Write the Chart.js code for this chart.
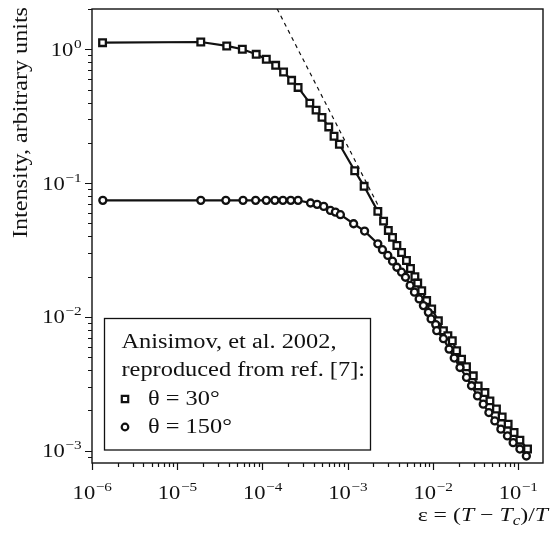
<!DOCTYPE html>
<html>
<head>
<meta charset="utf-8">
<script src="https://cdn.jsdelivr.net/npm/chart.js@4/dist/chart.umd.min.js"></script>
<style>
  html, body { margin: 0; background: #fff; }
</style>
</head>
<body>
<canvas id="chart" width="550" height="537"></canvas>
<script>
// theta = 30 deg (squares)
var eps30 = [1.33e-6, 1.89e-5, 3.81e-5, 5.81e-5, 8.45e-5, 1.11e-4, 1.43e-4, 1.77e-4, 2.20e-4, 2.62e-4,
  3.60e-4, 4.26e-4, 5.00e-4, 6.00e-4, 6.92e-4, 8.0e-4, 1.21e-3, 1.56e-3, 2.26e-3, 2.64e-3,
  3.0e-3, 3.36e-3, 3.78e-3, 4.29e-3, 4.90e-3, 5.46e-3, 6.15e-3, 6.64e-3, 7.40e-3, 8.45e-3,
  9.68e-3, 1.16e-2, 1.33e-2, 1.50e-2, 1.69e-2, 1.90e-2, 2.17e-2, 2.48e-2, 2.98e-2, 3.40e-2,
  4.08e-2, 4.67e-2, 5.57e-2, 6.50e-2, 7.64e-2, 8.97e-2, 0.105, 0.129];
var int30 = [1.12, 1.134, 1.059, 1.0, 0.917, 0.842, 0.759, 0.676, 0.586, 0.519,
  0.396, 0.351, 0.310, 0.263, 0.224, 0.195, 0.1236, 0.0946, 0.0615, 0.052,
  0.0443, 0.0393, 0.0342, 0.0303, 0.0264, 0.0230, 0.0200, 0.0179, 0.0157, 0.01325,
  0.01148, 0.00938, 0.00789, 0.00724, 0.00664, 0.00559, 0.00484, 0.00424, 0.00363, 0.00305,
  0.00272, 0.00236, 0.00205, 0.00179, 0.00158, 0.00137, 0.00120, 0.00103];

// theta = 150 deg (circles)
var eps150 = [1.34e-6, 1.89e-5, 3.72e-5, 5.92e-5, 8.32e-5, 1.11e-4, 1.40e-4, 1.74e-4, 2.15e-4, 2.62e-4,
  3.67e-4, 4.38e-4, 5.24e-4, 6.28e-4, 7.18e-4, 8.22e-4, 1.175e-3, 1.58e-3, 2.26e-3, 2.56e-3,
  2.96e-3, 3.36e-3, 3.78e-3, 4.29e-3, 4.77e-3, 5.41e-3, 6.08e-3, 6.90e-3, 7.74e-3, 8.85e-3,
  9.53e-3, 1.08e-2, 1.11e-2, 1.33e-2, 1.55e-2, 1.78e-2, 2.08e-2, 2.48e-2, 2.84e-2, 3.34e-2,
  3.90e-2, 4.54e-2, 5.33e-2, 6.28e-2, 7.50e-2, 8.75e-2, 0.105, 0.125];
var int150 = [0.0743, 0.0743, 0.0743, 0.0743, 0.0743, 0.0743, 0.0743, 0.0743, 0.0743, 0.0743,
  0.0710, 0.0694, 0.0670, 0.0625, 0.0607, 0.0581, 0.0497, 0.0438, 0.0352, 0.0318,
  0.0288, 0.0261, 0.0235, 0.0216, 0.0198, 0.0172, 0.0153, 0.01363, 0.01215, 0.01082,
  0.00966, 0.00876, 0.00789, 0.00688, 0.00575, 0.00493, 0.00419, 0.00353, 0.00306, 0.00257,
  0.00223, 0.00193, 0.00167, 0.00145, 0.00129, 0.00115, 0.00103, 0.000914];

// asymptotic power law (dashed)
var fitEps = [1.0e-4, 2.4e-3];
var fitInt = [3.28, 0.0638];

var xTickExps = [-6, -5, -4, -3, -2, -1];
var yTickExps = [-3, -2, -1, 0];
var legendTitle = ["Anisimov, et al. 2002,", "reproduced from ref. [7]:"];
var legendLabels = ["\u03b8 = 30\u00b0", "\u03b8 = 150\u00b0"];

var SERIF = "'Liberation Serif', 'DejaVu Serif', serif";
var STRETCH = 1.22;
var INK = "#111";

function pairs(xs, ys) {
  var out = [];
  for (var i = 0; i < xs.length; i++) out.push({x: xs[i], y: ys[i]});
  return out;
}

// horizontally widened text, like the reference
function wideText(ctx, str, x, y, font) {
  ctx.save();
  ctx.font = font;
  ctx.translate(x, y);
  ctx.scale(STRETCH, 1);
  ctx.textAlign = "left";
  ctx.textBaseline = "alphabetic";
  ctx.fillText(str, 0, 0);
  ctx.restore();
}
function wideWidth(ctx, str, font) {
  ctx.save();
  ctx.font = font;
  var w = ctx.measureText(str).width * STRETCH;
  ctx.restore();
  return w;
}

function powerLabel(ctx, exp, x, y, align) {
  var baseFont = "18.5px " + SERIF, expFont = "12.5px " + SERIF;
  var e = exp === 0 ? "0" : "\u2212" + Math.abs(exp);
  var wb = wideWidth(ctx, "10", baseFont), we = wideWidth(ctx, e, expFont);
  var x0 = align === "center" ? x - (wb + we) / 2 : x - (wb + we);
  wideText(ctx, "10", x0, y, baseFont);
  wideText(ctx, e, x0 + wb + 0.5, y - 8, expFont);
}

var decor = {
  id: "decor",
  afterDraw: function(chart) {
    var ctx = chart.ctx, a = chart.chartArea;
    var xs = chart.scales.x, ys = chart.scales.y;
    ctx.save();
    ctx.fillStyle = INK;
    ctx.strokeStyle = INK;

    // frame
    ctx.lineWidth = 1.4;
    ctx.strokeRect(a.left, a.top, a.right - a.left, a.bottom - a.top);

    // ticks (outward, bottom and left)
    ctx.lineWidth = 1.2;
    ctx.beginPath();
    for (var n = -7; n <= 1; n++) {
      for (var m = 1; m <= 9; m++) {
        var v = m * Math.pow(10, n);
        var len = m === 1 ? 7 : 4;
        if (v >= xs.min && v <= xs.max) {
          var px = Math.round(xs.getPixelForValue(v)) + 0.5;
          ctx.moveTo(px, a.bottom);
          ctx.lineTo(px, a.bottom + len);
        }
        if (v >= ys.min && v <= ys.max) {
          var py = Math.round(ys.getPixelForValue(v)) + 0.5;
          ctx.moveTo(a.left, py);
          ctx.lineTo(a.left - len, py);
        }
      }
    }
    ctx.stroke();

    // tick labels
    xTickExps.forEach(function(e) {
      powerLabel(ctx, e, xs.getPixelForValue(Math.pow(10, e)), 498.5, "center");
    });
    yTickExps.forEach(function(e) {
      powerLabel(ctx, e, 81, ys.getPixelForValue(Math.pow(10, e)) + 6.5, "right");
    });

    // y axis title
    ctx.save();
    ctx.translate(27, 238);
    ctx.rotate(-Math.PI / 2);
    var yt = "Intensity, arbitrary units", yf = "20px " + SERIF;
    var sc = 231 / wideWidth(ctx, yt, yf);
    ctx.scale(sc, 1);
    wideText(ctx, yt, 0, 0, yf);
    ctx.restore();

    // x axis title: eps = (T - T_c)/T
    var reg = "19.5px " + SERIF, ital = "italic 19.5px " + SERIF, sub = "italic 14px " + SERIF;
    var parts = [
      ["\u03b5 = (", reg, 0], ["T", ital, 0], [" \u2212 ", reg, 0], ["T", ital, 0],
      ["c", sub, 4], [")/", reg, 0], ["T", ital, 0]
    ];
    var total = 0;
    parts.forEach(function(p) { total += wideWidth(ctx, p[0], p[1]); });
    var tx = 548 - total;
    parts.forEach(function(p) {
      wideText(ctx, p[0], tx, 520.5 + p[2], p[1]);
      tx += wideWidth(ctx, p[0], p[1]);
    });

    // legend box
    ctx.fillStyle = "#fff";
    ctx.fillRect(104.5, 318.5, 266, 131.5);
    ctx.fillStyle = INK;
    ctx.lineWidth = 1.3;
    ctx.strokeRect(104.5, 318.5, 266, 131.5);
    var lf = "20px " + SERIF;
    var lw = wideWidth(ctx, legendTitle[0], lf);
    ctx.save();
    ctx.translate(121.5, 0);
    ctx.scale(215 / lw, 1);
    wideText(ctx, legendTitle[0], 0, 347.5, lf);
    wideText(ctx, legendTitle[1], 0, 376, lf);
    wideText(ctx, legendLabels[0], (148 - 121.5) * lw / 215, 404.5, lf);
    wideText(ctx, legendLabels[1], (148 - 121.5) * lw / 215, 433, lf);
    ctx.restore();
    ctx.lineWidth = 2.2;
    ctx.fillStyle = "#fff";
    ctx.beginPath();
    ctx.rect(121.8, 395.8, 6.4, 6.4);
    ctx.fill(); ctx.stroke();
    ctx.beginPath();
    ctx.arc(125, 427, 3.3, 0, Math.PI * 2);
    ctx.fill(); ctx.stroke();
    ctx.restore();
  }
};

var ctx = document.getElementById("chart").getContext("2d");
var chart = new Chart(ctx, {
  type: "scatter",
  data: {
    datasets: [
      {
        label: "fit",
        data: pairs(fitEps, fitInt),
        showLine: true,
        borderColor: INK,
        borderWidth: 1.2,
        borderDash: [4, 4],
        pointRadius: 0
      },
      {
        label: legendLabels[1],
        data: pairs(eps150, int150),
        showLine: true,
        borderColor: INK,
        borderWidth: 2.2,
        pointStyle: "circle",
        pointRadius: 3.5,
        pointBorderWidth: 2.3,
        pointBackgroundColor: "#fff",
        pointBorderColor: INK
      },
      {
        label: legendLabels[0],
        data: pairs(eps30, int30),
        showLine: true,
        borderColor: INK,
        borderWidth: 2.2,
        pointStyle: "rect",
        pointRadius: 4.7,
        pointBorderWidth: 2.3,
        pointBackgroundColor: "#fff",
        pointBorderColor: INK
      }
    ]
  },
  options: {
    responsive: false,
    animation: false,
    layout: { padding: { left: 92, right: 5, top: 9, bottom: 74 } },
    plugins: { legend: { display: false }, tooltip: { enabled: false } },
    scales: {
      x: { type: "logarithmic", min: 1e-6, max: 0.196, display: false },
      y: { type: "logarithmic", min: 8.1e-4, max: 2.0, display: false }
    }
  },
  plugins: [decor]
});
</script>
</body>
</html>
